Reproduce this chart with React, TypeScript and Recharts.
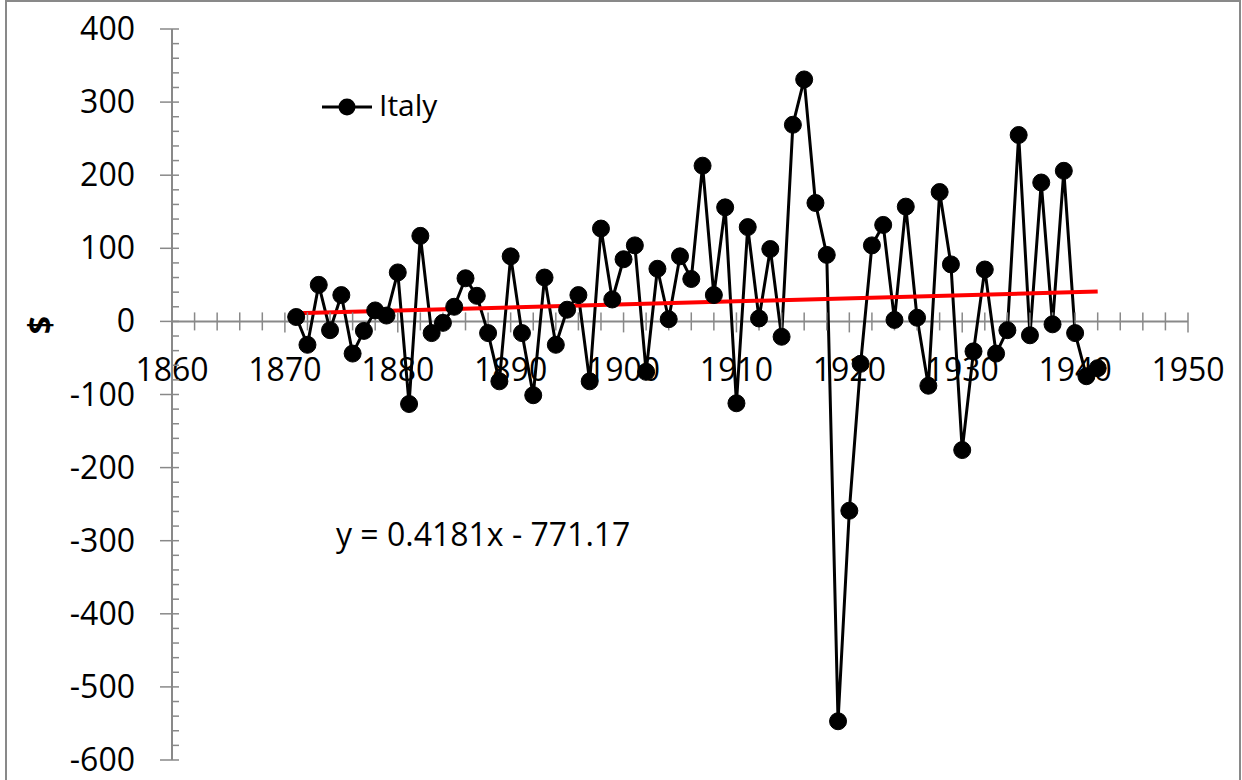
import React from "react";
import {
  ComposedChart,
  Line,
  Scatter,
  XAxis,
  YAxis,
  ReferenceLine,
} from "recharts";

// yearly values for Italy, 1871-1942
const years = [
  1871, 1872, 1873, 1874, 1875, 1876, 1877, 1878, 1879, 1880,
  1881, 1882, 1883, 1884, 1885, 1886, 1887, 1888, 1889, 1890,
  1891, 1892, 1893, 1894, 1895, 1896, 1897, 1898, 1899, 1900,
  1901, 1902, 1903, 1904, 1905, 1906, 1907, 1908, 1909, 1910,
  1911, 1912, 1913, 1914, 1915, 1916, 1917, 1918, 1919, 1920,
  1921, 1922, 1923, 1924, 1925, 1926, 1927, 1928, 1929, 1930,
  1931, 1932, 1933, 1934, 1935, 1936, 1937, 1938, 1939, 1940,
  1941, 1942,
];
const italy = [
  6, -32, 50, -12, 36, -44, -13, 15, 8, 67,
  -113, 117, -16, -2, 20, 59, 35, -16, -82, 89,
  -16, -101, 60, -32, 16, 36, -82, 127, 30, 85,
  104, -69, 72, 3, 89, 58, 213, 36, 156, -112,
  129, 4, 99, -21, 269, 331, 162, 91, -547, -259,
  -58, 104, 132, 2, 157, 5, -88, 177, 78, -176,
  -41, 71, -44, -12, 255, -19, 190, -4, 206, -16,
  -75, -64,
];

// linear trend shown on the chart
const trendSlope = 0.4181;
const trendIntercept = -771.17;
const trendYears = [1871, 1942];
const trendLabel = "y = 0.4181x - 771.17";

const xDomain = [1860, 1950];
const yDomain = [-600, 400];
const xMinorStep = 2;
const xMajorStep = 10;
const yMinorStep = 20;
const yMajorStep = 100;

const AXIS = "#898989";
const FONT = "'Open Sans', 'Noto Sans', sans-serif";

const italyData = years.map((year, i) => ({ year, value: italy[i] }));
const trendData = trendYears.map((year) => ({
  year,
  value: trendSlope * year + trendIntercept,
}));

const xTickData: { year: number; value: number }[] = [];
for (let y = xDomain[0]; y <= xDomain[1]; y += xMinorStep) {
  xTickData.push({ year: y, value: 0 });
}
const yTicks: number[] = [];
for (let v = yDomain[0]; v <= yDomain[1]; v += yMinorStep) yTicks.push(v);

// x axis crosses at zero, so its ticks are drawn through the chart scales
function XTick(props: any) {
  const { cx, cy, payload } = props;
  const major = payload.year % xMajorStep === 0;
  return (
    <g>
      <line
        x1={cx}
        x2={cx}
        y1={cy - 9}
        y2={cy + (major ? 11 : 9)}
        stroke={AXIS}
        strokeWidth={1.5}
      />
      {major && (
        <text
          x={cx}
          y={cy + 60}
          textAnchor="middle"
          fontSize={32}
          fontFamily={FONT}
          fill="#000"
        >
          {payload.year}
        </text>
      )}
    </g>
  );
}

function YTick(props: any) {
  const { x, y, payload } = props;
  const v = payload.value;
  const major = v % yMajorStep === 0;
  return (
    <g>
      <line
        x1={major ? x - 12 : x}
        x2={x + 7}
        y1={y}
        y2={y}
        stroke={AXIS}
        strokeWidth={1.5}
      />
      {major && (
        <text
          x={x - 37}
          y={y + 11}
          textAnchor="end"
          fontSize={32}
          fontFamily={FONT}
          fill="#000"
        >
          {v}
        </text>
      )}
    </g>
  );
}

export default function App() {
  return (
    <div
      style={{
        position: "absolute",
        left: 0,
        top: 0,
        width: 1242,
        height: 780,
        overflow: "hidden",
        background: "#fff",
        fontFamily: FONT,
      }}
    >
      <div
        style={{
          position: "absolute",
          left: 5,
          top: 0,
          width: 1236,
          height: 800,
          border: `2px solid ${AXIS}`,
          boxSizing: "border-box",
        }}
      />
      <div style={{ position: "absolute", left: 0, top: 0 }}>
        <ComposedChart
          width={1242}
          height={780}
          margin={{ top: 29, right: 54, bottom: 20, left: 0 }}
        >
          <XAxis type="number" dataKey="year" domain={xDomain} hide />
          <YAxis
            type="number"
            domain={yDomain}
            ticks={yTicks}
            interval={0}
            width={172}
            tickSize={0}
            tickMargin={0}
            tickLine={false}
            tick={<YTick />}
            axisLine={{ stroke: AXIS, strokeWidth: 2 }}
          />
          <ReferenceLine y={0} stroke={AXIS} strokeWidth={2} />
          <Scatter
            data={xTickData}
            dataKey="value"
            shape={XTick}
            isAnimationActive={false}
          />
          <Line
            data={italyData}
            dataKey="value"
            type="linear"
            stroke="#000"
            strokeWidth={3}
            dot={{ r: 8.5, fill: "#000", stroke: "#000", strokeWidth: 1 }}
            isAnimationActive={false}
          />
          <Line
            data={trendData}
            dataKey="value"
            type="linear"
            stroke="#ff0000"
            strokeWidth={4}
            dot={false}
            isAnimationActive={false}
          />
        </ComposedChart>
      </div>
      <svg
        width={1242}
        height={780}
        style={{ position: "absolute", left: 0, top: 0, pointerEvents: "none" }}
      >
        <text
          x={39}
          y={325}
          transform="rotate(-90 39 325)"
          textAnchor="middle"
          dominantBaseline="central"
          fontSize={32}
          fontWeight="bold"
          fontFamily={FONT}
          fill="#000"
        >
          $
        </text>
        <line x1={322} x2={372} y1={107} y2={107} stroke="#000" strokeWidth={3} />
        <circle cx={347} cy={107} r={8.5} fill="#000" />
        <text x={379} y={116} fontSize={30} fontFamily={FONT} fill="#000">
          Italy
        </text>
        <text x={336} y={546} fontSize={32} fontFamily={FONT} fill="#000">
          {trendLabel}
        </text>
      </svg>
    </div>
  );
}
